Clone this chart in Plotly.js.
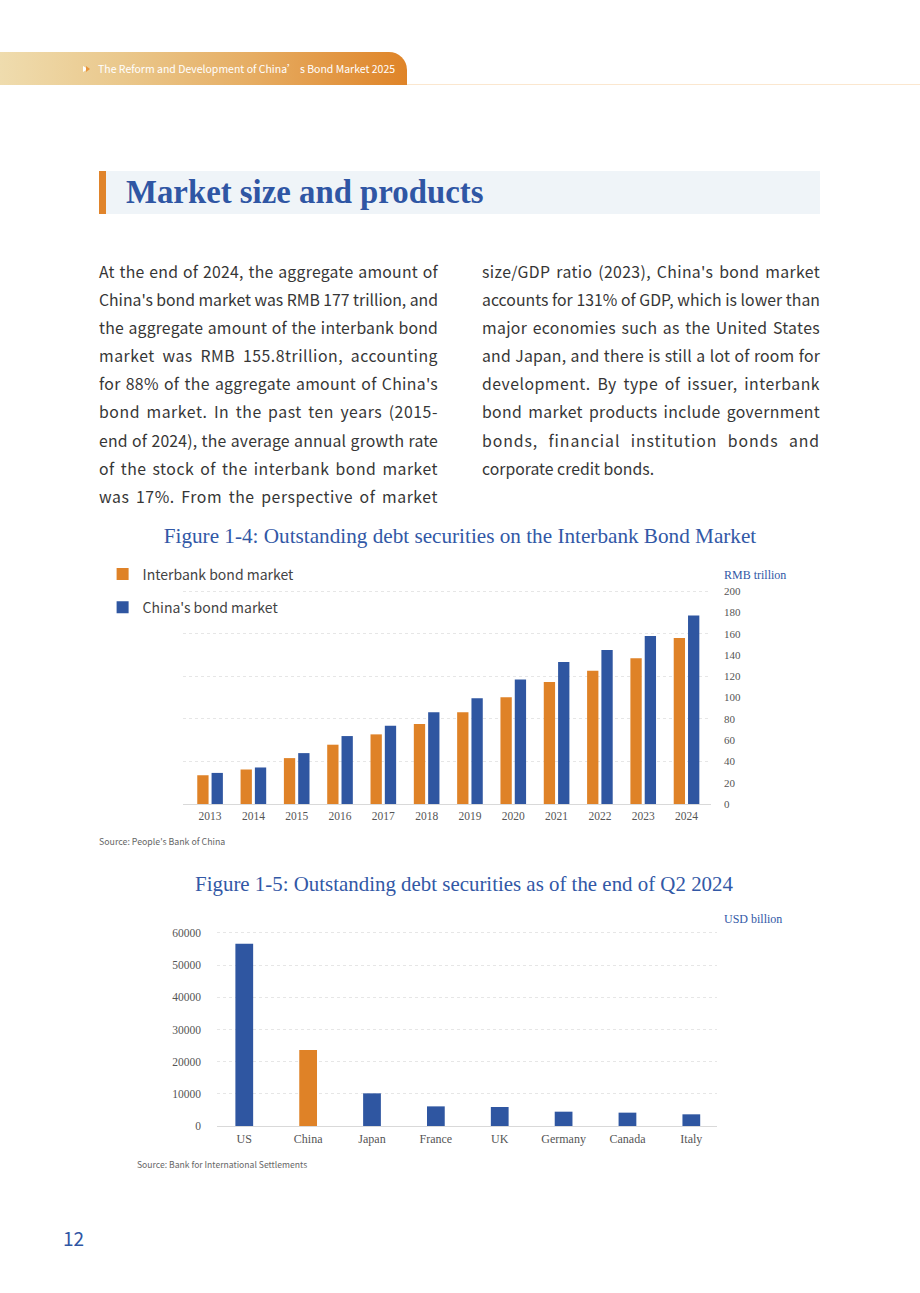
<!DOCTYPE html>
<html>
<head>
<meta charset="utf-8">
<script src="https://cdn.plot.ly/plotly-3.0.1.min.js"></script>
<style>
html,body{margin:0;padding:0;background:#fff;}
#page{position:relative;width:920px;height:1293px;overflow:hidden;background:#fff;font-family:"Noto Sans CJK SC","Noto Sans",sans-serif;}
.abs{position:absolute;}
#hdr{left:0;top:52px;width:407px;height:33px;border-top-right-radius:18px;background:linear-gradient(90deg,#efdcae 0%,#eac88c 30%,#e6ad63 62%,#df8428 100%);}
#hdrline{left:407px;top:84px;width:513px;height:1px;background:#fbe7cf;}
#hdrtext{left:98px;top:60px;font-size:10.5px;color:#fff;line-height:18px;white-space:nowrap;}
#tri{left:83px;top:66px;width:0;height:0;border-left:5px solid #fff;border-top:3px solid transparent;border-bottom:3px solid transparent;}
#tri2{left:86px;top:66px;width:0;height:0;border-left:4px solid #e8953c;border-top:3px solid transparent;border-bottom:3px solid transparent;}
#secbox{left:99px;top:171px;width:721px;height:43px;background:#eff4f8;}
#secbar{left:99px;top:171px;width:7px;height:43px;background:#e0842b;}
#sectitle{left:126px;top:171px;height:43px;line-height:43px;font-family:"Liberation Serif",serif;font-weight:bold;font-size:32.8px;color:#2f56a4;white-space:nowrap;}
.col{position:absolute;top:258px;}
.ln{height:28.1px;line-height:28.1px;font-size:15.8px;color:#363636;white-space:nowrap;}
#pgnum{left:63px;top:1224px;font-size:19px;color:#2f56a4;line-height:28px;}
.chart{position:absolute;left:0;width:920px;}
</style>
</head>
<body>
<div id="page">
  <div id="hdr" class="abs"></div>
  <div id="hdrline" class="abs"></div>
  <div id="tri" class="abs"></div>
  <div id="tri2" class="abs"></div>
  <div id="hdrtext" class="abs">The Reform and Development of China’ s Bond Market 2025</div>
  <div id="secbox" class="abs"></div>
  <div id="secbar" class="abs"></div>
  <div id="sectitle" class="abs">Market size and products</div>
  <div id="colL" class="col" style="left:99px;width:339px;"></div>
  <div id="colR" class="col" style="left:482px;width:338px;"></div>
  <div id="c1" class="chart" style="top:520px;height:330px;"></div>
  <div id="c2" class="chart" style="top:860px;height:320px;"></div>
  <div id="pgnum" class="abs">12</div>
</div>
<script>
// ---- Body text ----
const leftLines = [
  "At the end of 2024, the aggregate amount of",
  "China's bond market was RMB 177 trillion, and",
  "the aggregate amount of the interbank bond",
  "market was RMB 155.8trillion, accounting",
  "for 88% of the aggregate amount of China's",
  "bond market. In the past ten years (2015-",
  "end of 2024), the average annual growth rate",
  "of the stock of the interbank bond market",
  "was 17%. From the perspective of market"
];
const rightLines = [
  "size/GDP ratio (2023), China's bond market",
  "accounts for 131% of GDP, which is lower than",
  "major economies such as the United States",
  "and Japan, and there is still a lot of room for",
  "development. By type of issuer, interbank",
  "bond market products include government",
  "bonds, financial institution bonds and",
  "corporate credit bonds."
];

// ---- Chart data ----
const years = ["2013","2014","2015","2016","2017","2018","2019","2020","2021","2022","2023","2024"];
const interbank = [27.0, 32.4, 43.1, 55.7, 65.4, 75.2, 86.2, 100.3, 114.5, 125.2, 136.8, 155.8];
const chinaBond = [29.2, 34.3, 47.8, 63.8, 73.6, 86.2, 99.4, 117.0, 133.3, 144.7, 157.9, 177.0];

const countries = ["US","China","Japan","France","UK","Germany","Canada","Italy"];
const debtUSD = [56600, 23650, 10150, 6100, 5900, 4450, 4150, 3630];
const debtTickVals = [0, 10000, 20000, 30000, 40000, 50000, 60000];
const debtTickText = ["\u2007\u2007\u2007\u20070", "10000", "20000", "30000", "40000", "50000", "60000"];

const BLUE = "#2f56a1", ORANGE = "#df8227", TITLEBLUE = "#3258a6";
const SERIF = "Liberation Serif, Times New Roman, serif";
const SANS = "Noto Sans CJK SC, Noto Sans, sans-serif";

function fillCol(id, lines, lastJustify) {
  const col = document.getElementById(id);
  const W = parseFloat(col.style.width);
  lines.forEach((t, i) => {
    const d = document.createElement('div');
    d.className = 'ln';
    const s = document.createElement('span');
    s.textContent = t;
    d.appendChild(s);
    col.appendChild(d);
    const justify = (i < lines.length - 1) || lastJustify;
    if (justify) {
      const w = s.getBoundingClientRect().width;
      const spaces = (t.match(/ /g) || []).length;
      const extra = W - w;
      if (extra > 0) {
        const ls = extra * 0.6 / t.length;
        s.style.letterSpacing = ls + 'px';
        const w2 = s.getBoundingClientRect().width;
        if (spaces > 0) s.style.wordSpacing = ((W - w2) / spaces) + 'px';
      } else {
        s.style.letterSpacing = (extra / t.length) + 'px';
      }
    }
  });
}
fillCol('colL', leftLines, true);
fillCol('colR', rightLines, false);

// ---- Chart 1 ----
const c1H = 330, c1Top = 520;
const y1Max = 201;
const p1L = 183.3, p1R = 710.7, p1B = 804, pxPerUnit1 = 212.5 / 200;
const p1T = p1B - y1Max * pxPerUnit1;
const p1W = p1R - p1L, p1Hh = p1B - p1T;
Plotly.newPlot('c1', [
  {type:'bar', x:years, y:interbank, name:'Interbank bond market', marker:{color:ORANGE},
   legendgroup:'a', offsetgroup:'1', alignmentgroup:'g', yaxis:'y', hoverinfo:'x+y'},
  {type:'bar', x:years, y:chinaBond, name:"China's bond market", marker:{color:BLUE},
   legendgroup:'b', offsetgroup:'2', alignmentgroup:'g', yaxis:'y2', hoverinfo:'x+y'}
], {
  width:920, height:c1H,
  margin:{l:p1L, r:920 - p1R, t:p1T - c1Top, b:c1Top + c1H - p1B, pad:0},
  paper_bgcolor:'rgba(0,0,0,0)', plot_bgcolor:'rgba(0,0,0,0)',
  barmode:'group', bargap:0.339, bargroupgap:0.21,
  title:{text:'Figure 1-4: Outstanding debt securities on the Interbank Bond Market',
    font:{family:SERIF, size:21.2, color:TITLEBLUE},
    x:0.5, xref:'container', xanchor:'center', y:1 - 16/c1H, yref:'container', yanchor:'middle'},
  xaxis:{type:'category', range:[-0.625, 11.565], showline:true, linecolor:'#d9d9d9', linewidth:1,
    ticks:'', showgrid:false, zeroline:false, tickfont:{family:SERIF, size:11.5, color:'#555'},
    ticklabelstandoff:1},
  yaxis:{side:'right', range:[0,y1Max], tickmode:'linear', tick0:0, dtick:20, showgrid:false, zeroline:false, ticks:'',
    tickfont:{family:SERIF, size:11, color:'#555'}, ticklabelstandoff:12},
  yaxis2:{overlaying:'y', side:'right', range:[0,y1Max], tickmode:'linear', tick0:0, dtick:40, showgrid:true, gridcolor:'#e6e6e6',
    griddash:'dot', gridwidth:1, showticklabels:false, zeroline:false, ticks:''},
  showlegend:true,
  legend:{x:(103 - p1L)/p1W, y:(p1B - 559)/p1Hh, xanchor:'left', yanchor:'top',
    traceorder:'grouped', tracegroupgap:12, bgcolor:'rgba(0,0,0,0)',
    font:{family:SANS, size:14, color:'#444'}},
  annotations:[
    {text:'RMB trillion', xref:'paper', yref:'paper', x:(722 - p1L)/p1W, y:(p1B - 575)/p1Hh,
     xanchor:'left', yanchor:'middle', showarrow:false, font:{family:SERIF, size:12, color:TITLEBLUE}},
    {text:"Source: People's Bank of China", xref:'paper', yref:'paper', x:(97 - p1L)/p1W, y:(p1B - 841)/p1Hh,
     xanchor:'left', yanchor:'middle', showarrow:false, font:{family:SANS, size:8.8, color:'#666'}}
  ]
}, {displayModeBar:false, staticPlot:true});

// ---- Chart 2 ----
const c2H = 320, c2Top = 860;
const y2Max = 60600;
const p2L = 216.6, p2R = 717.5, p2B = 1126.3, pxPerUnit2 = 193 / 60000;
const p2T = p2B - y2Max * pxPerUnit2;
const p2W = p2R - p2L, p2Hh = p2B - p2T;
Plotly.newPlot('c2', [
  {type:'bar', x:countries, y:debtUSD, marker:{color:countries.map(c => c === 'China' ? ORANGE : BLUE)},
   showlegend:false, hoverinfo:'x+y'}
], {
  width:920, height:c2H,
  margin:{l:p2L, r:920 - p2R, t:p2T - c2Top, b:c2Top + c2H - p2B, pad:0},
  paper_bgcolor:'rgba(0,0,0,0)', plot_bgcolor:'rgba(0,0,0,0)',
  bargap:0.722,
  title:{text:'Figure 1-5: Outstanding debt securities as of the end of Q2 2024',
    font:{family:SERIF, size:20.9, color:TITLEBLUE},
    x:464/920, xref:'container', xanchor:'center', y:1 - 24/c2H, yref:'container', yanchor:'middle'},
  xaxis:{type:'category', range:[-0.427, 7.402], showline:true, linecolor:'#d9d9d9', linewidth:1,
    ticks:'', showgrid:false, zeroline:false, tickfont:{family:SERIF, size:12, color:'#555'},
    ticklabelstandoff:2},
  yaxis:{range:[0,y2Max], tickmode:'array', tickvals:debtTickVals, ticktext:debtTickText,
    showgrid:true, gridcolor:'#e6e6e6', griddash:'dot', zeroline:false, ticks:'',
    tickfont:{family:SERIF, size:11.5, color:'#555'}, ticklabelstandoff:15},
  annotations:[
    {text:'USD billion', xref:'paper', yref:'paper', x:(723 - p2L)/p2W, y:(p2B - 919)/p2Hh,
     xanchor:'left', yanchor:'middle', showarrow:false, font:{family:SERIF, size:12, color:TITLEBLUE}},
    {text:'Source: Bank for International Settlements', xref:'paper', yref:'paper', x:(134 - p2L)/p2W, y:(p2B - 1164)/p2Hh,
     xanchor:'left', yanchor:'middle', showarrow:false, font:{family:SANS, size:8.6, color:'#666'}}
  ]
}, {displayModeBar:false, staticPlot:true});
</script>
</body>
</html>
